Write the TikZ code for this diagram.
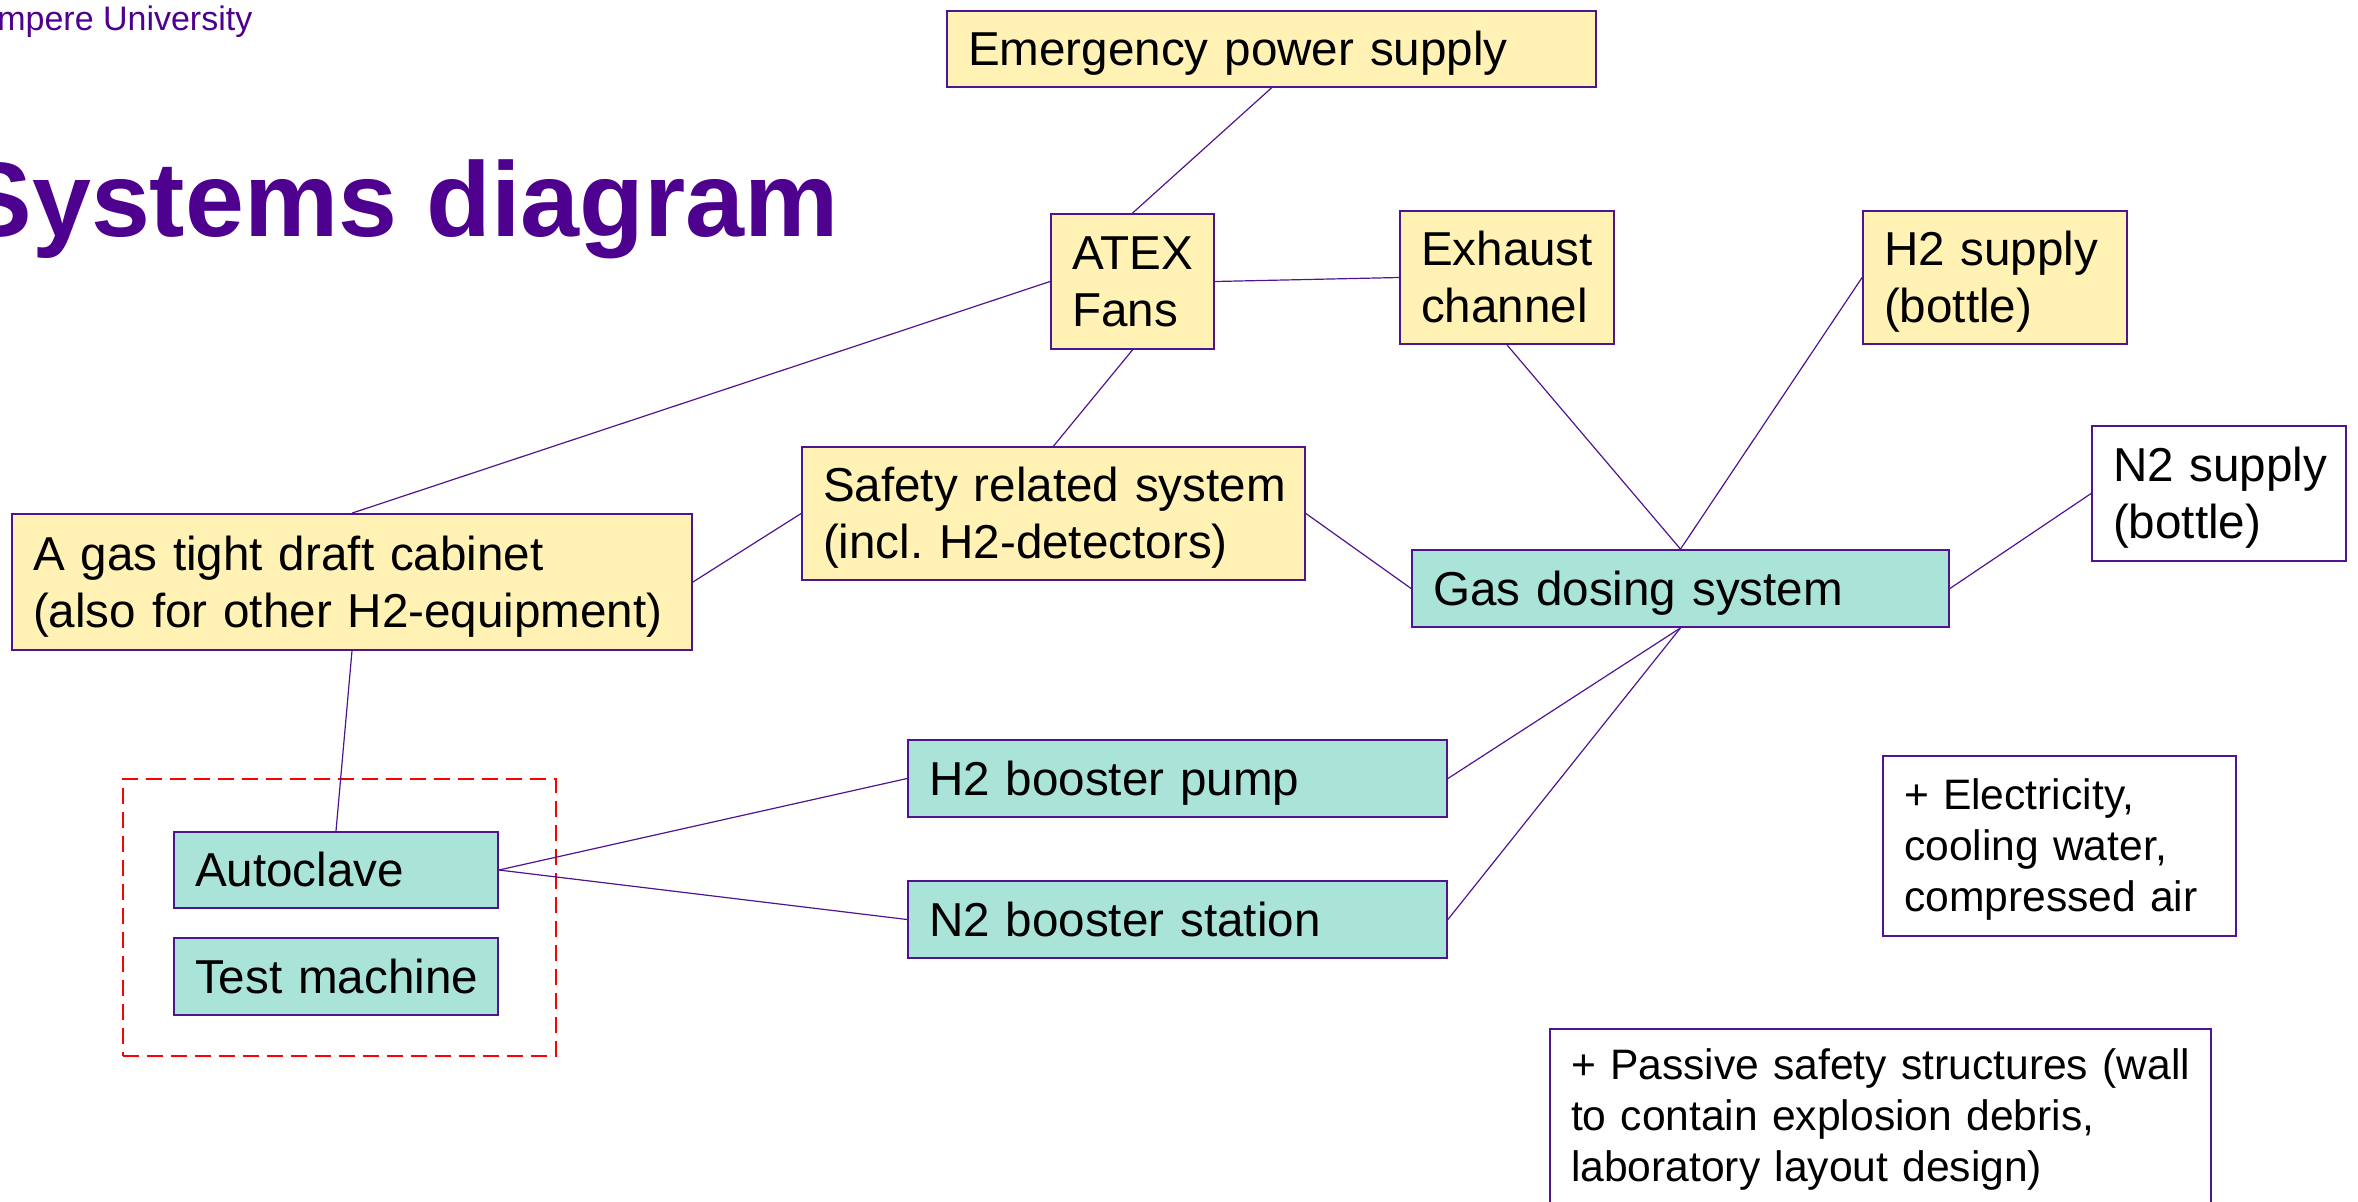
\documentclass[tikz,border=0pt]{standalone}
\usepackage{fontspec}
\setmainfont{Liberation Sans}
\frenchspacing
\definecolor{bord}{HTML}{4F1490}
\definecolor{titlec}{HTML}{4E008E}
\definecolor{yfill}{HTML}{FFF2B4}
\definecolor{tfill}{HTML}{AAE4D9}
\newcommand\tstrutx{\rule{0pt}{0.905em}}
\newcommand\bstrutx{\rule[-0.212em]{0pt}{0pt}}
\begin{document}
\begin{tikzpicture}[x=0.5pt,y=-0.5pt,
  box/.style={draw=bord, line width=0.9pt, inner xsep=10.5pt, inner ysep=0pt,
    align=left, text=black, font=\fontsize{23.8}{28.5}\selectfont,
    execute at begin node=\tstrutx, execute at end node=\bstrutx},
  ybox/.style={box, fill=yfill},
  tbox/.style={box, fill=tfill},
  wbox/.style={box, fill=white},
  smalltext/.style={font=\fontsize{21.3}{25.5}\selectfont},
  link/.style={draw=bord, line width=0.6pt},
  groupbox/.style={draw=red, line width=1.3pt, dash pattern=on 8pt off 4pt, inner sep=0pt}
]
\useasboundingbox (0,0) rectangle (2358,1201);
\clip (0,0) rectangle (2358,1201);

% header
\node[anchor=base west, inner sep=0pt, text=titlec, font=\fontsize{17}{19}\selectfont] (logo) at (-39,30) {Tampere University};
\node[anchor=base west, inner sep=0pt, text=titlec, font=\fontsize{53}{60}\selectfont\bfseries] (title) at (-39,236) {Systems diagram};

% group
\node[groupbox, minimum width=216.5pt, minimum height=138.5pt] (grp) at (339.5,917.5) {};

% boxes
\node[ybox, minimum width=324.5pt, minimum height=38pt, text width=303.5pt] (eps) at (1271.5,49) {\mbox{Emergency power supply}};
\node[ybox, minimum width=81.5pt, minimum height=67.5pt, text width=60.5pt] (atex) at (1132.5,281.5) {\mbox{ATEX}\\\mbox{Fans}};
\node[ybox, minimum width=107pt, minimum height=66.5pt, text width=86pt] (exh) at (1507,277.5) {\mbox{Exhaust}\\\mbox{channel}};
\node[ybox, minimum width=132pt, minimum height=66.5pt, text width=111pt] (h2s) at (1995,277.5) {\mbox{H2 supply}\\\mbox{(bottle)}};
\node[wbox, minimum width=127pt, minimum height=67.5pt, text width=106pt] (n2s) at (2219,493.5) {\mbox{N2 supply}\\\mbox{(bottle)}};
\node[ybox, minimum width=251.5pt, minimum height=66.5pt, text width=230.5pt] (saf) at (1053.5,513.5) {\mbox{Safety related system}\\\mbox{(incl. H2-detectors)}};
\node[ybox, minimum width=340pt, minimum height=68pt, text width=319pt] (cab) at (352,582) {\mbox{A gas tight draft cabinet}\\\mbox{(also for other H2-equipment)}};
\node[tbox, minimum width=268.5pt, minimum height=38.5pt, text width=247.5pt] (gas) at (1680.5,588.5) {\mbox{Gas dosing system}};
\node[tbox, minimum width=269.5pt, minimum height=38.5pt, text width=248.5pt] (h2b) at (1177.5,778.5) {\mbox{H2 booster pump}};
\node[tbox, minimum width=269.5pt, minimum height=38.5pt, text width=248.5pt] (n2b) at (1177.5,919.5) {\mbox{N2 booster station}};
\node[tbox, minimum width=162pt, minimum height=38pt, text width=141pt] (auto) at (336,870) {\mbox{Autoclave}};
\node[tbox, minimum width=162pt, minimum height=38.5pt, text width=141pt] (test) at (336,976.5) {\mbox{Test machine}};
\node[wbox, smalltext, minimum width=176.5pt, minimum height=90pt, text width=155.5pt] (util) at (2059.5,846) {\mbox{+ Electricity,}\\\mbox{cooling water,}\\\mbox{compressed air}};
\node[wbox, smalltext, minimum width=330.5pt, minimum height=87pt, text width=309.5pt] (pass) at (1880.5,1116) {\mbox{+ Passive safety structures (wall}\\\mbox{to contain explosion debris,}\\\mbox{laboratory layout design)}};

% connectors
\draw[link] (eps.south) -- (atex.north);
\draw[link] (atex.west) -- (cab.north);
\draw[link] (atex.east) -- (exh.west);
\draw[link] (atex.south) -- (saf.north);
\draw[link] (cab.east) -- (saf.west);
\draw[link] (saf.east) -- (gas.west);
\draw[link] (exh.south) -- (gas.north);
\draw[link] (h2s.west) -- (gas.north);
\draw[link] (n2s.west) -- (gas.east);
\draw[link] (gas.south) -- (h2b.east);
\draw[link] (gas.south) -- (n2b.east);
\draw[link] (cab.south) -- (auto.north);
\draw[link] (auto.east) -- (h2b.west);
\draw[link] (auto.east) -- (n2b.west);
\end{tikzpicture}
\end{document}
